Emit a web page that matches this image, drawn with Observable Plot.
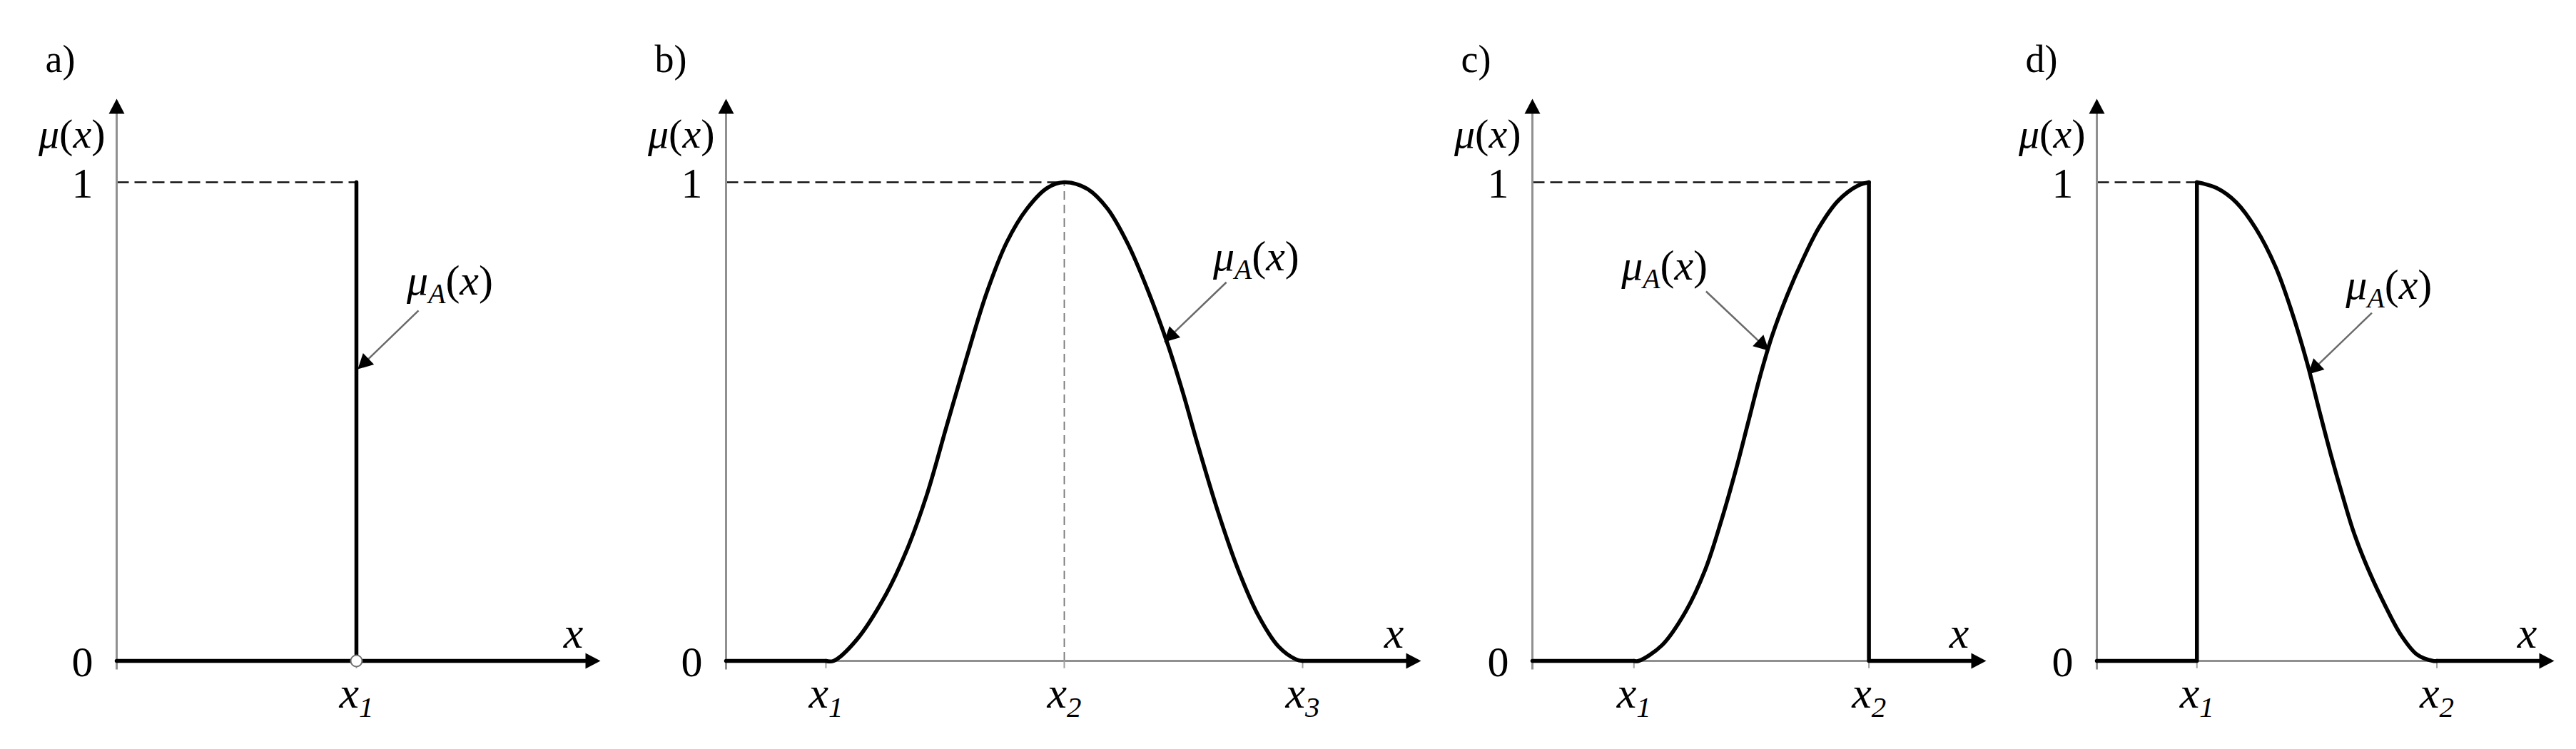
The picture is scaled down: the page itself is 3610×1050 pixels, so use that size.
<!DOCTYPE html>
<html><head><meta charset="utf-8">
<script src="https://cdn.jsdelivr.net/npm/d3@7"></script>
<script src="https://cdn.jsdelivr.net/npm/@observablehq/plot@0.6"></script>
<style>
html,body{margin:0;padding:0;background:#fff;}
#chart{position:relative;width:3610px;height:1050px;overflow:hidden;background:#fff;}
#chart svg{position:absolute;top:0;font-family:"Liberation Serif","Times New Roman",serif !important;}
#chart svg text, #chart svg tspan{font-family:"Liberation Serif","Times New Roman",serif !important;}
</style></head><body><div id="chart"></div>
<script>
// ---------------- data ----------------
const panelTitles = ["a)", "b)", "c)", "d)"];
const yTickValues = [0, 1];
const yTickLabels = ["0", "1"];
const yAxisTitle = "μ(x)";
const xAxisTitle = "x";
const calloutText = "μA(x)";

// x ticks (in units of the tick spacing) and their labels
const ticksA = [1];       const tickLabelsA = ["x1"];
const ticksB = [1, 2, 3]; const tickLabelsB = ["x1", "x2", "x3"];
const ticksC = [1, 2];    const tickLabelsC = ["x1", "x2"];
const ticksD = [1, 2];    const tickLabelsD = ["x1", "x2"];

// axis extents (x from the y axis to the arrow tip, y arrow tip)
const axisXMin = [0, 0.581, 0.568, 0.583];
const axisXMax = [2.009, 3.488, 2.49, 2.48];
const axisYMax = 1.17;
const axisYMin = -0.018;
// where the dashed μ = 1 guide ends
const guideEnd = [1, 2, 2, 1];
const peakB = [2];

// straight (flat / vertical) parts of each membership function
const stepA_x = [0, 1.985, 1, 1];           const stepA_y = [0, 0, 0, 1];       const stepA_s = [0, 0, 1, 1];
const stepB_x = [0.581, 1, 3, 3.464];       const stepB_y = [0, 0, 0, 0];       const stepB_s = [0, 0, 1, 1];
const stepC_x = [0.568, 1, 2, 2, 2.466];    const stepC_y = [0, 0, 1, 0, 0];    const stepC_s = [0, 0, 1, 1, 1];
const stepD_x = [0.583, 1, 1, 2, 2.456];    const stepD_y = [0, 0, 1, 0, 0];    const stepD_s = [0, 0, 0, 1, 1];

// smooth parts of each membership function
const curveB_x = [1, 1.032, 1.127, 1.253, 1.338, 1.422, 1.506, 1.591, 1.675, 1.759, 1.844, 1.928, 2.0, 2.097, 2.181, 2.266, 2.35, 2.435, 2.498, 2.561, 2.646, 2.73, 2.814, 2.899, 2.973, 3.0];
const curveB_y = [0, 0, 0.043, 0.14, 0.23, 0.345, 0.49, 0.635, 0.77, 0.875, 0.945, 0.988, 1.0, 0.986, 0.945, 0.872, 0.775, 0.66, 0.56, 0.45, 0.31, 0.19, 0.095, 0.03, 0.003, 0];
const curveC_x = [1, 1.02, 1.12, 1.22, 1.303, 1.37, 1.437, 1.487, 1.537, 1.587, 1.653, 1.72, 1.787, 1.87, 1.953, 2.0];
const curveC_y = [0, 0, 0.033, 0.103, 0.19, 0.29, 0.405, 0.5, 0.595, 0.678, 0.765, 0.84, 0.905, 0.962, 0.993, 1.0];
const curveD_x = [1, 1.082, 1.164, 1.246, 1.328, 1.393, 1.459, 1.508, 1.557, 1.607, 1.656, 1.721, 1.787, 1.852, 1.918, 1.984, 2.0];
const curveD_y = [1, 0.988, 0.958, 0.903, 0.823, 0.733, 0.623, 0.527, 0.433, 0.345, 0.265, 0.183, 0.113, 0.053, 0.013, 0, 0];

// open point in panel a
const openPointX = [1]; const openPointY = [0];

// callouts μA(x): label position and arrow from -> to
const calloutLabelX = [1.39, 2.805, 1.13, 1.80];
const calloutLabelY = [0.794, 0.845, 0.825, 0.785];
const calloutFromX = [1.259, 2.68, 1.307, 1.729];
const calloutFromY = [0.732, 0.791, 0.772, 0.727];
const calloutToX = [1.012, 2.425, 1.568, 1.47];
const calloutToY = [0.6125, 0.669, 0.651, 0.602];

// ---------------- layout ----------------
const layout = {
  left:  [0, 880, 2000, 2800],
  width: [880, 1120, 800, 810],
  yAxisPx: [163, 1017, 2147, 2938],
  tipPx: [838, 1988, 2780, 3576],
  y0Px: 926, y1Px: 255
};
const FONT = "Liberation Serif, Times New Roman, serif";
const NS = "http://www.w3.org/2000/svg";

const rich = {
  "μ(x)": [["μ",1],["(",0],["x",1],[")",0]],
  "μA(x)": [["μ",1],["A",1,1],["(",0],["x",1],[")",0]],
  "x": [["x",1]],
  "x1": [["x",1],["1",1,1]],
  "x2": [["x",1],["2",1,1]],
  "x3": [["x",1],["3",1,1]]
};

function richText(svg) {
  svg.querySelectorAll("text").forEach(t => {
    t.setAttribute("font-family", FONT);
    const spec = rich[t.textContent];
    if (!spec) return;
    let fs = parseFloat(t.getAttribute("font-size") || (t.parentNode && t.parentNode.getAttribute("font-size")) || 60);
    while (t.firstChild) t.removeChild(t.firstChild);
    let shifted = false;
    for (const [s, it, sub] of spec) {
      const ts = document.createElementNS(NS, "tspan");
      ts.textContent = s;
      if (it) ts.setAttribute("font-style", "italic");
      if (sub) {
        ts.setAttribute("font-size", fs * 0.66);
        if (!shifted) { ts.setAttribute("dy", fs * 0.2); shifted = true; }
      } else if (shifted) { ts.setAttribute("dy", -fs * 0.2); shifted = false; }
      t.appendChild(ts);
    }
  });
}

function fixMarkers(svg) {
  svg.querySelectorAll("marker").forEach(m => {
    m.setAttribute("viewBox", "-20 -12 24 24");
    m.setAttribute("markerUnits", "userSpaceOnUse");
    m.setAttribute("markerWidth", "24");
    m.setAttribute("markerHeight", "24");
    m.setAttribute("fill", "#000");
    m.setAttribute("stroke", "none");
    while (m.firstChild) m.removeChild(m.firstChild);
    const p = document.createElementNS(NS, "path");
    p.setAttribute("d", "M-18,-11L3,0L-18,11Z");
    m.appendChild(p);
  });
}

function toRows(xs, ys, ss) { return xs.map((x, i) => ({x, y: ys[i], s: ss ? ss[i] : 0})); }

function panel(i, ticks, tickLabels, steps, curve, extraMarks) {
  const xmin = axisXMin[i], xmax = axisXMax[i];
  const L = layout.left[i];
  const marks = [];
  // dashed μ = 1 guide
  marks.push(Plot.link([0], {x1: xmin, y1: 1, x2: guideEnd[i], y2: 1, stroke: "#111", strokeWidth: 2.4, strokeDasharray: "17,8"}));
  if (extraMarks) marks.push(...extraMarks.under);
  // axes
  marks.push(Plot.link([0], {x1: xmin, y1: axisYMin, x2: xmin, y2: axisYMax, stroke: "#909090", strokeWidth: 3, markerEnd: "arrow"}));
  marks.push(Plot.link([0], {x1: xmin, y1: 0, x2: xmax, y2: 0, stroke: "#909090", strokeWidth: 3, markerEnd: "arrow"}));
  // tick marks
  marks.push(Plot.ruleX(ticks, {x: d => d, y1: 0, y2: -0.016, stroke: "#a0a0a0", strokeWidth: 2}));
  // membership function
  marks.push(Plot.line(steps, {x: "x", y: "y", z: "s", stroke: "#000", strokeWidth: 5.5, strokeLinecap: "round", strokeLinejoin: "round"}));
  if (curve) marks.push(Plot.line(curve, {x: "x", y: "y", stroke: "#000", strokeWidth: 5.5, strokeLinecap: "round", strokeLinejoin: "round", curve: "catmull-rom"}));
  if (extraMarks) marks.push(...extraMarks.over);
  // callout
  marks.push(Plot.link([0], {x1: calloutFromX[i], y1: calloutFromY[i], x2: calloutToX[i], y2: calloutToY[i], stroke: "#6a6a6a", strokeWidth: 2.5, markerEnd: "arrow"}));
  marks.push(Plot.text([calloutText], {x: calloutLabelX[i], y: calloutLabelY[i], text: d => d, fontSize: 60, textAnchor: "middle"}));
  // labels
  marks.push(Plot.text([panelTitles[i]], {x: xmin, y: 1.256, text: d => d, fontSize: 54, textAnchor: "start", dx: -100}));
  marks.push(Plot.text([yAxisTitle], {x: xmin, y: 1.1, text: d => d, fontSize: 58, textAnchor: "end", dx: -16}));
  marks.push(Plot.text(yTickValues, {x: xmin, y: d => d, text: (d, j) => yTickLabels[j], fontSize: 60, textAnchor: "end", dx: -33, dy: 2}));
  marks.push(Plot.text(ticks, {x: d => d, y: 0, text: (d, j) => tickLabels[j], fontSize: 62, textAnchor: "middle", dy: 46}));
  marks.push(Plot.text([xAxisTitle], {x: xmax, y: 0, text: d => d, fontSize: 62, textAnchor: "middle", dx: -35, dy: -38}));

  const svg = Plot.plot({
    width: layout.width[i], height: 1050,
    marginLeft: 0, marginRight: 0, marginTop: 0, marginBottom: 0,
    x: {domain: [xmin, xmax], range: [layout.yAxisPx[i] - L, layout.tipPx[i] - L], axis: null},
    y: {domain: [0, 1], range: [layout.y0Px, layout.y1Px], axis: null},
    style: {fontFamily: FONT, background: "white", color: "black", overflow: "visible"},
    marks
  });
  fixMarkers(svg);
  richText(svg);
  svg.setAttribute("font-family", FONT);
  svg.style.left = L + "px";
  svg.style.maxWidth = "none";
  svg.style.overflow = "visible";
  document.getElementById("chart").appendChild(svg);
}

panel(0, ticksA, tickLabelsA, toRows(stepA_x, stepA_y, stepA_s), null, {
  under: [],
  over: [Plot.dot(openPointX.map((x, k) => ({x, y: openPointY[k]})), {x: "x", y: "y", r: 8, fill: "white", stroke: "#707070", strokeWidth: 2})]
});
panel(1, ticksB, tickLabelsB, toRows(stepB_x, stepB_y, stepB_s), toRows(curveB_x, curveB_y), {
  under: [Plot.ruleX(peakB, {x: d => d, y1: 0, y2: 1, stroke: "#777", strokeWidth: 1.8, strokeDasharray: "12,7"})],
  over: []
});
panel(2, ticksC, tickLabelsC, toRows(stepC_x, stepC_y, stepC_s), toRows(curveC_x, curveC_y), null);
panel(3, ticksD, tickLabelsD, toRows(stepD_x, stepD_y, stepD_s), toRows(curveD_x, curveD_y), null);
</script></body></html>
